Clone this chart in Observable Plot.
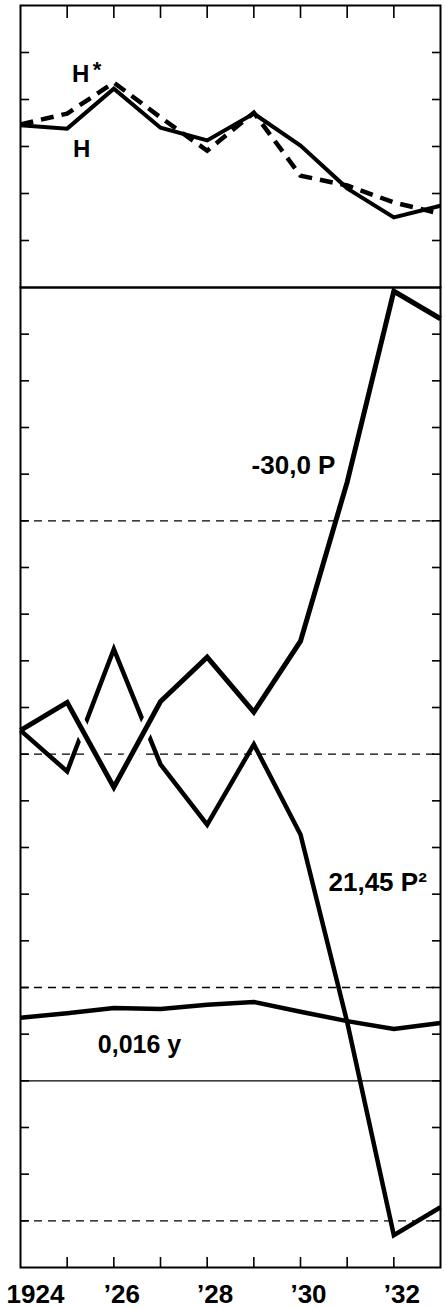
<!DOCTYPE html>
<html>
<head>
<meta charset="utf-8">
<script src="https://cdn.jsdelivr.net/npm/d3@7"></script>
<script src="https://cdn.jsdelivr.net/npm/@observablehq/plot@0.6"></script>
<style>
  html, body { margin: 0; padding: 0; background: #fff; }
  #chart { width: 446px; }
  #chart svg { display: block; }
  #chart svg.lower { margin-top: -2px; }
</style>
</head>
<body>
<div id="chart"></div>
<script>
// ---- data ----
const years = [1924, 1925, 1926, 1927, 1928, 1929, 1930, 1931, 1932, 1933];
// upper panel
const H     = [3.45, 3.38, 4.23, 3.40, 3.13, 3.70, 3.02, 2.11, 1.49, 1.74];
const Hstar = [3.47, 3.70, 4.36, 3.62, 2.91, 3.72, 2.38, 2.17, 1.81, 1.57];
// lower panel
const negP30 = [11.51, 12.11, 10.29, 12.13, 13.08, 11.90, 13.42, 16.83, 20.92, 20.33];
const P2x2145 = [11.51, 10.63, 13.25, 10.78, 9.49, 11.21, 9.28, 5.26, 0.69, 1.29];
const y0016 = [5.35, 5.45, 5.56, 5.54, 5.63, 5.69, 5.48, 5.28, 5.11, 5.24];
// ticks & labels
const tickYears = [1925, 1926, 1927, 1928, 1929, 1930, 1931, 1932];
const labelYears = [1924, 1926, 1928, 1930, 1932];
const labelTexts = ["1924", "\u201926", "\u201928", "\u201930", "\u201932"];
const topTicks = [1, 2, 3, 4, 5];
const bottomTicks = [1, 2, 3, 4, 5, 6, 7, 8, 9, 10, 11, 12, 13, 14, 15, 16, 17, 18, 19, 20];
const dashedLevels = [1, 6, 11, 16];
const solidLevels = [4];

const rows = (vals) => years.map((year, i) => ({year, value: vals[i]}));
const font = "'Liberation Sans', Arial, sans-serif";
const lineOpts = {x: "year", y: "value", stroke: "black", strokeLinejoin: "miter", strokeMiterlimit: 6, strokeLinecap: "butt"};
const fmtYear = d => labelTexts[labelYears.indexOf(d)];

const topPlot = Plot.plot({
  width: 446, height: 288,
  marginLeft: 20, marginRight: 6, marginTop: 5, marginBottom: 1,
  x: {domain: [1924, 1933]},
  y: {domain: [0, 6]},
  style: {fontFamily: font, background: "white", color: "black", overflow: "visible"},
  marks: [
    Plot.axisX({anchor: "top", ticks: tickYears, tickSize: -12, fill: "none", strokeWidth: 1.6, label: null}),
    Plot.axisY({anchor: "left", ticks: topTicks, tickSize: -9, fill: "none", strokeWidth: 1.6, label: null}),
    Plot.axisY({anchor: "right", ticks: topTicks, tickSize: -9, fill: "none", strokeWidth: 1.6, label: null}),
    Plot.lineY(rows(H), {...lineOpts, strokeWidth: 4}),
    Plot.lineY(rows(Hstar), {...lineOpts, strokeWidth: 4.5, strokeDasharray: "13,8"}),
    Plot.frame({stroke: "black", strokeWidth: 2}),
    Plot.text(["H"], {x: 1925.29, y: 4.53, text: d => d, fontSize: 24, fontWeight: "bold", fontFamily: font, fill: "black"}),
    Plot.text(["*"], {x: 1925.64, y: 4.62, text: d => d, fontSize: 22, fontWeight: "bold", fontFamily: font, fill: "black"}),
    Plot.text(["H"], {x: 1925.31, y: 2.94, text: d => d, fontSize: 24, fontWeight: "bold", fontFamily: font, fill: "black"})
  ]
});

const haloRows = rows(negP30).filter(d => d.year >= 1925 && d.year <= 1927);

const bottomPlot = Plot.plot({
  width: 446, height: 1021,
  marginLeft: 20, marginRight: 6, marginTop: 1, marginBottom: 40,
  x: {domain: [1924, 1933]},
  y: {domain: [0, 21]},
  className: "lower",
  style: {fontFamily: font, background: "white", color: "black", overflow: "visible"},
  marks: [
    Plot.ruleY(dashedLevels, {stroke: "black", strokeWidth: 1.3, strokeDasharray: "8,6"}),
    Plot.ruleY(solidLevels, {stroke: "black", strokeWidth: 1.3}),
    Plot.axisX({anchor: "bottom", ticks: tickYears, tickSize: -10, fill: "none", strokeWidth: 1.6, label: null}),
    Plot.axisX({anchor: "bottom", ticks: labelYears.slice(0, 1), tickSize: 0, tickPadding: 17, dx: 15,
      tickFormat: fmtYear, fontSize: 26, fontWeight: "bold", label: null}),
    Plot.axisX({anchor: "bottom", ticks: labelYears.slice(1), tickSize: 0, tickPadding: 17, dx: 8,
      tickFormat: fmtYear, fontSize: 26, fontWeight: "bold", label: null}),
    Plot.axisY({anchor: "left", ticks: bottomTicks, tickSize: -9, fill: "none", strokeWidth: 1.6, label: null}),
    Plot.axisY({anchor: "right", ticks: bottomTicks, tickSize: -9, fill: "none", strokeWidth: 1.6, label: null}),
    Plot.lineY(rows(P2x2145), {...lineOpts, strokeWidth: 4.5}),
    Plot.lineY(rows(y0016), {...lineOpts, strokeWidth: 4.5}),
    Plot.lineY(haloRows, {...lineOpts, stroke: "white", strokeWidth: 14}),
    Plot.lineY(rows(negP30), {...lineOpts, strokeWidth: 5}),
    Plot.frame({stroke: "black", strokeWidth: 2}),
    Plot.text(["-30,0 P"], {x: 1929.85, y: 17.18, text: d => d, fontSize: 26, fontWeight: "bold", fontFamily: font, fill: "black"}),
    Plot.text(["21,45 P\u00B2"], {x: 1930.60, y: 8.25, text: d => d, textAnchor: "start", fontSize: 26, fontWeight: "bold", fontFamily: font, fill: "black"}),
    Plot.text(["0,016 y"], {x: 1926.55, y: 4.77, text: d => d, fontSize: 25, fontWeight: "bold", fontFamily: font, fill: "black"})
  ]
});

const chart = document.getElementById("chart");
chart.appendChild(topPlot);
chart.appendChild(bottomPlot);
</script>
</body>
</html>
